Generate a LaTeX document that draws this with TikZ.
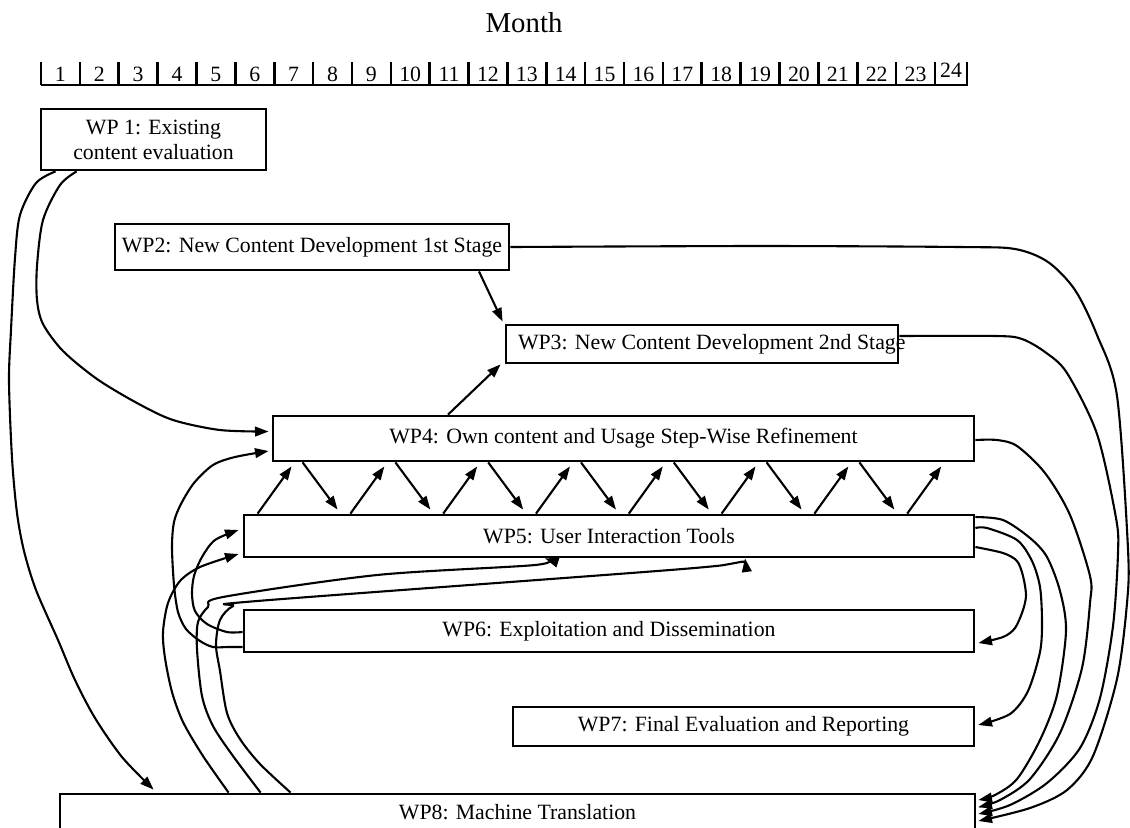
\documentclass[tikz,border=0pt]{standalone}
\usepackage{fontspec}
\setmainfont{Liberation Serif}
\usetikzlibrary{arrows.meta,calc}

\begin{document}
\begin{tikzpicture}[x=.5pt,y=-.5pt,font=\fontsize{10.9}{12.5}\selectfont,
wp/.style={draw,line width=1.4pt,inner sep=0pt,align=center},
wpsize/.style 2 args={minimum width=#1*.5pt,minimum height=#2*.5pt},
arr/.style={-{Triangle[length=6.8pt,width=4.8pt]},line width=1.05pt},
rule/.style={line width=1.3pt}]
\useasboundingbox(0,0)rectangle(1130,827);

\node(month)at(524,23){\fontsize{14.4}{16}\selectfont Month};
\foreach \k in {1,...,24}{
  \draw[rule]({41+38.87*(\k-1)},62)--++(0,23);
  \ifnum\k<24 \node(m\k)at({60.4+38.87*(\k-1)},74){\k};\fi}
\node(m24)at(951,70){24};
\draw[rule](41,85)--(967,85)--(967,62);

\node[wp,wpsize={225}{61}](wp1)at(153.5,139.5){WP 1: Existing\\content evaluation};
\node[wp,wpsize={394}{46}](wp2)at(312,247){WP2: New Content Development 1st Stage};
\node[wp,wpsize={392}{38}](wp3)at(702,344){\makebox[196pt][l]{\hspace{6pt}WP3: New Content Development 2nd Stage}};
\node[wp,wpsize={701}{45}](wp4)at(623.5,438.5){WP4: Own content and Usage Step-Wise Refinement};
\node[wp,wpsize={730}{42}](wp5)at(609,536){WP5: User Interaction Tools};
\node[wp,wpsize={730}{42}](wp6)at(609,631){WP6: Exploitation and Dissemination};
\node[wp,wpsize={461}{39}](wp7)at(743.5,726.5){WP7: Final Evaluation and Reporting};
\node[wp,wpsize={915}{36}](wp8)at(517.5,812){WP8: Machine Translation};

\draw[arr]plot[smooth,tension=.5]coordinates{($(wp1.south west)+(16,0)$)(36,183)(20,215)(15,258)(11,330)(9,381)(12,458)(17,513)(24,551)(36,590)(58,640)(75,680)(95,718)(122,757)($(wp8.north west)+(95,-3)$)};
\draw[arr]plot[smooth,tension=.5]coordinates{($(wp1.south west)+(37,0)$)(60,185)(43,220)(37,266)(37,300)(43,324)(63,351)(97,379)(137,403)(173,420)(220,430)($(wp4.west)+(-3,-7)$)};
\draw[arr]($(wp2.south)+(167,0)$)--($(wp3.north west)+(-2,-2)$);
\draw[arr]($(wp4.north)+(-175.5,0)$)--($(wp3.south west)+(-4,0)$);
\foreach \i in {0,...,7}
  \draw[arr]($(wp5.north west)+(15+92.8*\i,0)$)--($(wp4.south west)+(20+92.8*\i,4)$);
\foreach \i in {0,...,6}
  \draw[arr]($(wp4.south west)+(31+92.8*\i,0)$)--($(wp5.north west)+(95+92.8*\i,-4)$);
\draw[arr]plot[smooth,tension=.5]coordinates{($(wp6.west)+(0,16)$)(228,647)(213,647)(200,641)(186,629)(178,612)(174,585)(172,547)(174,522)(181,504)(194,483)(213,465)(235,457)($(wp4.west)+(-3,12.5)$)};
\draw[arr]plot[smooth,tension=.5]coordinates{($(wp6.west)+(0,1)$)(227,632)(207,624)(195,611)(192,594)(194,576)(202,557)(215,540)($(wp5.west)+(-4,-6)$)};
\draw[arr]plot[smooth,tension=.5]coordinates{($(wp8.north west)+(170,0)$)(203,756)(183,722)(172,692)(165,658)(163,632)(168,603)(180,581)(200,567)($(wp5.west)+(-4,18)$)};
\draw[arr]plot[smooth,tension=.5]coordinates{($(wp8.north west)+(202,0)$)(233,756)(213,726)(202,696)(197,649)(198,622)(208,607)(223,597)(377,575)(535,565)($(wp5.south)+(-64,0)$)};
\draw[arr]plot[smooth,tension=.5]coordinates{($(wp8.north west)+(232,0)$)(260,764)(240,739)(227,713)(220,671)(216,645)(220,620)(233,606)(257,601)(670,570)(735,563)($(wp5.south)+(136,0)$)};
\draw[arr]plot[smooth,tension=.5]coordinates{(wp2.east)(760,246)(960,247)(1015,249)(1048,262)(1075,290)(1097,335)(1117,396)(1128,549)(1127,603)(1117,679)(1093,756)(1067,790)(1030,808)($(wp8.east)+(2,9)$)};
\draw[arr]plot[smooth,tension=.5]coordinates{($(wp3.east)+(0,-8)$)(997,336)(1022,339)(1045,352)(1067,373)(1097,434)(1116,518)(1118,553)(1113,626)(1100,698)(1080,748)(1047,783)(1010,805)($(wp8.east)+(2,2)$)};
\draw[arr]plot[smooth,tension=.5]coordinates{($(wp4.east)+(0,1.5)$)(997,440)(1017,446)(1045,473)(1070,515)(1090,576)(1090,603)(1082,668)(1060,733)(1030,779)(1000,800)($(wp8.east)+(2,-5)$)};
\draw[arr]plot[smooth,tension=.5]coordinates{($(wp5.east)+(0,-19)$)(1003,520)(1030,538)(1047,557)(1060,591)(1066,631)(1057,695)(1040,740)(1017,779)(995,795)($(wp8.east)+(2,-12)$)};
\draw[arr]plot[smooth,tension=.5]coordinates{($(wp5.east)+(0,-8)$)(987,528)(1017,540)(1032,561)(1040,587)(1042,622)(1040,652)(1028,691)(1010,714)($(wp7.east)+(3,-1.5)$)};
\draw[arr]plot[smooth,tension=.5]coordinates{($(wp5.east)+(0,11)$)(1003,553)(1017,561)(1023,576)(1026,595)(1023,610)(1015,628)(1003,637)($(wp6.east)+(3,12)$)};
\end{tikzpicture}
\end{document}
